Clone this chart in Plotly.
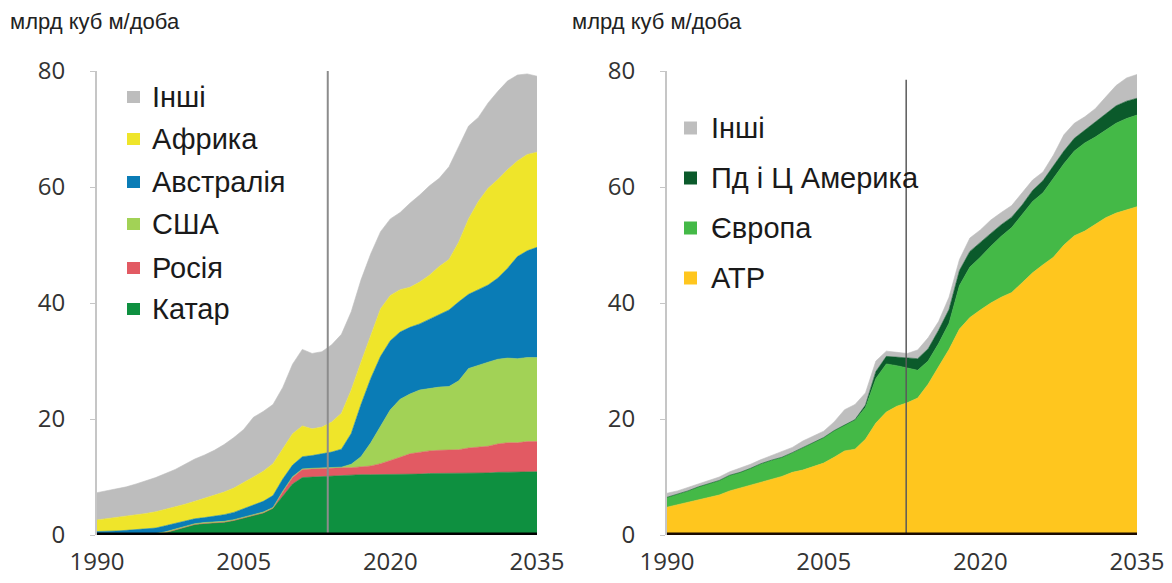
import plotly.graph_objects as go

# page is shown with an 8px body margin, so the figure is 8px smaller in each direction
OFF = 8
W, H = 1172 - OFF, 583 - OFF

# ---------------- data ----------------
years = list(range(1990, 2036))

# Left chart (exporters)
qatar = [0, 0, 0, 0, 0, 0, 0.1, 0.4, 0.9, 1.4,
         1.8, 2.0, 2.1, 2.2, 2.5, 2.9, 3.3, 3.8, 4.6, 6.8,
         8.8, 9.9, 10.0, 10.1, 10.2, 10.3, 10.3, 10.4, 10.4, 10.4,
         10.5, 10.5, 10.5, 10.5, 10.6, 10.6, 10.6, 10.6, 10.7, 10.7,
         10.7, 10.8, 10.8, 10.8, 10.9, 10.9]
russia = [0, 0, 0, 0, 0, 0, 0, 0, 0, 0,
          0, 0, 0, 0, 0, 0, 0, 0, 0, 0.6,
          1.1, 1.4, 1.4, 1.4, 1.3, 1.3, 1.3, 1.3, 1.5, 1.9,
          2.3, 2.9, 3.5, 3.8, 3.9, 4.0, 4.0, 4.1, 4.3, 4.4,
          4.6, 4.9, 5.1, 5.1, 5.2, 5.2]
usa = [0.15, 0.15, 0.15, 0.15, 0.15, 0.15, 0.15, 0.15, 0.15, 0.15,
       0.15, 0.15, 0.15, 0.15, 0.15, 0.15, 0.15, 0.15, 0.15, 0.15,
       0.15, 0.1, 0.1, 0.1, 0.1, 0.1, 0.6, 1.8, 4.0, 6.5,
       8.8, 10.0, 10.3, 10.7, 10.8, 10.9, 11.0, 11.9, 13.7, 14.2,
       14.5, 14.6, 14.6, 14.5, 14.5, 14.5]
australia = [0.45, 0.45, 0.55, 0.65, 0.75, 0.85, 0.95, 1.05, 0.95, 0.85,
             0.85, 0.85, 0.95, 1.15, 1.25, 1.45, 1.75, 1.85, 2.05, 2.1,
             2.0, 2.1, 2.2, 2.4, 2.7, 3.1, 5.3, 9.0, 11.1, 12.0,
             11.9, 11.6, 11.5, 11.4, 11.9, 12.4, 13.2, 13.6, 12.8, 13.0,
             13.3, 14.0, 15.5, 17.6, 18.4, 19.0]
africa = [2.0, 2.2, 2.3, 2.4, 2.5, 2.7, 2.8, 2.8, 2.9, 2.9,
          3.0, 3.3, 3.6, 3.9, 4.2, 4.5, 4.8, 5.2, 5.5, 5.2,
          5.4, 5.3, 4.6, 4.6, 5.2, 6.2, 7.5, 7.3, 7.5, 8.2,
          7.8, 7.3, 6.9, 7.2, 7.6, 8.4, 8.7, 10.3, 13.0, 15.2,
          16.7, 17.0, 17.0, 16.5, 16.6, 16.4]
others_l = [4.7, 4.8, 4.9, 5.1, 5.4, 5.6, 5.9, 6.2, 6.4, 6.9,
            7.3, 7.5, 7.8, 8.2, 8.7, 9.2, 10.3, 10.3, 10.2, 10.6,
            12.0, 13.2, 13.0, 13.0, 13.3, 13.6, 13.5, 14.2, 14.0, 13.3,
            13.2, 13.3, 14.5, 15.0, 15.4, 15.2, 16.0, 16.5, 16.0, 14.5,
            14.7, 15.2, 15.3, 14.8, 13.9, 13.1]

# Right chart (importers)
apac = [4.8, 5.2, 5.6, 6.0, 6.5, 6.9, 7.6, 8.1, 8.6, 9.1,
        9.6, 10.1, 10.8, 11.2, 11.8, 12.4, 13.4, 14.5, 14.8, 16.5,
        19.3, 21.2, 22.2, 22.8, 23.6, 26.0, 29.0, 32.0, 35.5, 37.5,
        38.8, 40.0, 41.0, 41.8, 43.5, 45.2, 46.6, 47.9, 50.0, 51.6,
        52.4, 53.5, 54.7, 55.5, 56.0, 56.6]
europe = [1.7, 1.8, 2.0, 2.3, 2.3, 2.5, 2.7, 2.7, 2.9, 3.2,
          3.3, 3.3, 3.4, 3.9, 4.1, 4.4, 4.6, 4.5, 5.0, 5.5,
          7.7, 8.3, 7.0, 6.0, 4.8, 4.0, 4.0, 4.5, 7.5, 8.7,
          9.1, 9.8, 10.5, 11.2, 11.7, 12.3, 12.4, 13.6, 14.0, 14.6,
          15.2, 15.1, 15.1, 15.5, 15.8, 15.8]
sc_america = [0, 0, 0, 0, 0, 0, 0, 0, 0, 0,
              0, 0, 0, 0, 0, 0, 0, 0, 0.1, 0.4,
              1.2, 1.3, 1.5, 1.8, 2.0, 2.1, 2.3, 2.4, 2.6, 2.7,
              2.6, 2.2, 2.0, 1.8, 1.7, 1.9, 2.1, 2.2, 2.2, 2.2,
              2.2, 2.5, 2.8, 3.0, 3.0, 2.9]
others_r = [0.7, 0.6, 0.6, 0.5, 0.6, 0.6, 0.6, 0.7, 0.7, 0.7,
            0.8, 0.9, 0.9, 1.1, 1.1, 1.1, 1.5, 2.6, 2.6, 2.1,
            1.8, 0.9, 0.8, 0.7, 1.5, 1.9, 1.5, 2.1, 1.9, 2.3,
            2.1, 2.3, 2.1, 2.0, 2.1, 1.8, 1.5, 1.8, 2.8, 2.6,
            2.3, 2.4, 2.9, 3.5, 4.0, 4.1]

left_names = ["Катар", "Росія", "США", "Австралія", "Африка", "Інші"]
left_colors = ["#0e9040", "#e25a63", "#a2d256", "#0a7cb6", "#efe52a", "#bdbdbd"]
left_series = [qatar, russia, usa, australia, africa, others_l]

right_names = ["АТР", "Європа", "Пд і Ц Америка", "Інші"]
right_colors = ["#ffc61e", "#44b947", "#0b5a2b", "#bebebe"]
right_series = [apac, europe, sc_america, others_r]

y_ticks = [0, 20, 40, 60, 80]
x_ticks = [1990, 2005, 2020, 2035]
unit = "млрд куб м/доба"
base_year_left = 2013.6
base_year_right = 2012.9

# ---------------- figure ----------------
def fx(px):
    return (px - OFF) / W

def fy(py):
    return 1 - (py - OFF) / H

fig = go.Figure()

for name, vals, col in zip(left_names, left_series, left_colors):
    fig.add_trace(go.Scatter(x=years, y=vals, xaxis="x", yaxis="y", stackgroup="left",
                             mode="lines", line=dict(width=0.6, color=col), fillcolor=col,
                             name=name, showlegend=False))
for name, vals, col in zip(right_names, right_series, right_colors):
    fig.add_trace(go.Scatter(x=years, y=vals, xaxis="x2", yaxis="y2", stackgroup="right",
                             mode="lines", line=dict(width=0.6, color=col), fillcolor=col,
                             name=name, showlegend=False))

tickfont = dict(family="Open Sans", size=24, color="#333333")
xcommon = dict(range=[1990, 2035], tickvals=x_ticks, showgrid=False, zeroline=False,
               showline=False, ticks="", tickfont=tickfont, ticklabelstandoff=10,
               fixedrange=True, automargin=False)
ycommon = dict(range=[0, 80], tickvals=y_ticks, showgrid=False, zeroline=False,
               showline=True, linecolor="#c6c6c6", linewidth=2, ticks="outside", ticklen=5,
               tickcolor="#c6c6c6", tickwidth=1, tickfont=tickfont, ticklabelstandoff=20,
               fixedrange=True, automargin=False)

ydom = [fy(535), fy(71)]
fig.update_layout(
    width=W, height=H, autosize=False,
    margin=dict(l=0, r=0, t=0, b=0, pad=0),
    paper_bgcolor="white", plot_bgcolor="white",
    showlegend=False,
    xaxis=dict(domain=[fx(97), fx(537)], anchor="y", **xcommon),
    yaxis=dict(domain=ydom, anchor="x", **ycommon),
    xaxis2=dict(domain=[fx(667), fx(1137)], anchor="y2", **xcommon),
    yaxis2=dict(domain=ydom, anchor="x2", **ycommon),
)

shapes = [
    dict(type="line", xref="x", yref="y", x0=base_year_left, x1=base_year_left, y0=0, y1=80,
         line=dict(color="#8c8c8c", width=2), layer="above"),
    dict(type="line", xref="x2", yref="y2", x0=base_year_right, x1=base_year_right, y0=0, y1=78.5,
         line=dict(color="#5a5a5a", width=1.5), layer="above"),
    dict(type="line", xref="x", yref="y", x0=1990, x1=2035, y0=0, y1=0,
         line=dict(color="#000000", width=5), layer="above"),
    dict(type="line", xref="x2", yref="y2", x0=1990, x1=2035, y0=0, y1=0,
         line=dict(color="#1a0a00", width=5), layer="above"),
]

titlefont = dict(family="Liberation Sans", size=22, color="#222222")
annotations = [
    dict(text=unit, x=fx(8), y=fy(22), xref="paper", yref="paper", xanchor="left", yanchor="middle",
         showarrow=False, font=titlefont),
    dict(text=unit, x=fx(570), y=fy(22), xref="paper", yref="paper", xanchor="left", yanchor="middle",
         showarrow=False, font=titlefont),
]

legfont = dict(family="Liberation Sans", size=29, color="#1a1a1a")

# left legend (top to bottom: reversed stack order)
left_rows = [97, 139, 182, 224, 268, 309]
for (name, col), yy in zip(list(zip(left_names, left_colors))[::-1], left_rows):
    shapes.append(dict(type="rect", xref="paper", yref="paper", x0=fx(127), x1=fx(140),
                       y0=fy(yy + 6), y1=fy(yy - 6), fillcolor=col, line=dict(width=0)))
    annotations.append(dict(text=name, x=fx(150), y=fy(yy), xref="paper", yref="paper",
                            xanchor="left", yanchor="middle", showarrow=False, font=legfont))

right_rows = [128, 178, 228, 278]
for (name, col), yy in zip(list(zip(right_names, right_colors))[::-1], right_rows):
    shapes.append(dict(type="rect", xref="paper", yref="paper", x0=fx(684), x1=fx(697),
                       y0=fy(yy + 6.5), y1=fy(yy - 6.5), fillcolor=col, line=dict(width=0)))
    annotations.append(dict(text=name, x=fx(709), y=fy(yy), xref="paper", yref="paper",
                            xanchor="left", yanchor="middle", showarrow=False, font=legfont))

fig.update_layout(shapes=shapes, annotations=annotations)

fig.write_html("out.html")
